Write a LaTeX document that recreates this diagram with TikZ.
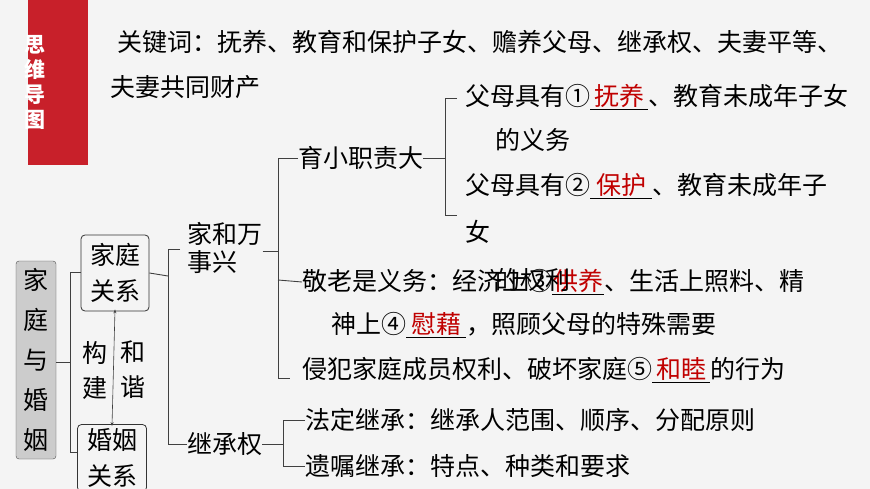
\documentclass[tikz,border=0pt]{standalone}
\usepackage{fontspec}
\setmainfont{Noto Sans CJK SC}
\usetikzlibrary{arrows.meta}
\definecolor{bg}{HTML}{F4F4F4}
\definecolor{barred}{HTML}{C8202A}
\definecolor{ans}{HTML}{C00000}
\newcommand{\blank}[2]{\underline{\makebox[#1pt]{\textcolor{ans}{#2}}}}
\begin{document}
\begin{tikzpicture}[x=1pt,y=-1pt,
  txt/.style={anchor=west,inner sep=0pt,font=\fontsize{25}{28}\selectfont},
  vtxt/.style={inner sep=0pt,font=\fontsize{25}{28}\selectfont,align=center},
  ln/.style={draw=black!75,line width=0.9pt},
  rbox/.style={draw=black!80,rounded corners=4pt,line width=0.8pt,minimum width=68pt,inner sep=2pt,align=center,font=\fontsize{25}{36}\selectfont}]
\fill[bg] (0,0) rectangle (870,489);
\useasboundingbox (0,0) rectangle (870,489);
\fill[barred] (28,0) rectangle (88,165);
\node[inner sep=0pt,text=white,font=\bfseries\fontsize{21}{25}\selectfont,align=center] (bar) at (35,82) {思\\维\\导\\图};
\node[txt] (k1) at (117,42) {关键词：抚养、教育和保护子女、赡养父母、继承权、夫妻平等、};
\node[txt] (k2) at (110,87) {夫妻共同财产};
% main box
\node[draw=black!70,fill=black!20,rounded corners=3pt,minimum width=40pt,minimum height=198pt,inner sep=0pt,align=center,font=\fontsize{25}{40}\selectfont] (main) at (36,360) {家\\庭\\与\\婚\\姻};
\node[rbox,minimum height=76pt] (jt) at (115,273) {家庭\\关系};
\node[rbox,minimum height=67pt,minimum width=69pt] (hy) at (112,458) {婚姻\\关系};
\node[vtxt,font=\fontsize{25}{35}\selectfont] (gj) at (95,370) {构\\建};
\node[vtxt,font=\fontsize{25}{35}\selectfont] (hx) at (133,370) {和\\谐};
\draw[black!75,line width=0.6pt,{Stealth[length=4pt]}-{Stealth[length=4pt]}] ([yshift=2pt]jt.south) -- ([yshift=-2pt]hy.north);
% bracket 1
\coordinate (b1) at (70,362);
\draw[ln] (main.east|-b1) -- (b1);
\draw[ln] (jt.west|-0,272) -- (70,272) -- (70,452) -- (hy.west|-0,452);
% bracket 2
\node[vtxt,align=left] (jh) at (225,248) {家和万\\事兴};
\node[txt] (jc) at (187,444) {继承权};
\draw[ln] (jt.east) -- (168,276);
\draw[ln] (180,249) -- (168,249) -- (168,444) -- (jc.west);
% bracket 3
\node[txt] (yx) at (298,158) {育小职责大};
\node[txt] (jl) at (302,282) {敬老是义务：经济上③\blank{52}{供养}、生活上照料、精};
\node[txt] (jl2) at (331,325) {神上④\blank{60}{慰藉}，照顾父母的特殊需要};
\node[txt] (qf) at (302,370) {侵犯家庭成员权利、破坏家庭⑤\blank{58}{和睦}的行为};
\node[txt] (qlx) at (495,280) {的权利};
\draw[ln] (jh.east|-0,251) -- (278,251);
\draw[ln] (yx.west|-0,158) -- (278,158) -- (278,378) -- (290,378);
\draw[ln] (278,280) -- (jl.west);
% bracket 4
\node[txt] (f1) at (465,97) {父母具有①\blank{58}{抚养}、教育未成年子女};
\node[txt] (f1b) at (495,140) {的义务};
\node[txt] (f2) at (465,186) {父母具有②\blank{62}{保护}、教育未成年子};
\node[txt] (f2b) at (465,232) {女};
\draw[ln] (yx.east) -- (445,158);
\draw[ln] (457,98) -- (445,98) -- (445,215) -- (457,215);
% bracket 5
\node[txt] (h1) at (305,420) {法定继承：继承人范围、顺序、分配原则};
\node[txt] (h2) at (305,466) {遗嘱继承：特点、种类和要求};
\draw[ln] (jc.east) -- (283,444);
\draw[ln] (h1.west) -- (283,420) -- (283,466) -- (h2.west);
\end{tikzpicture}
\end{document}
